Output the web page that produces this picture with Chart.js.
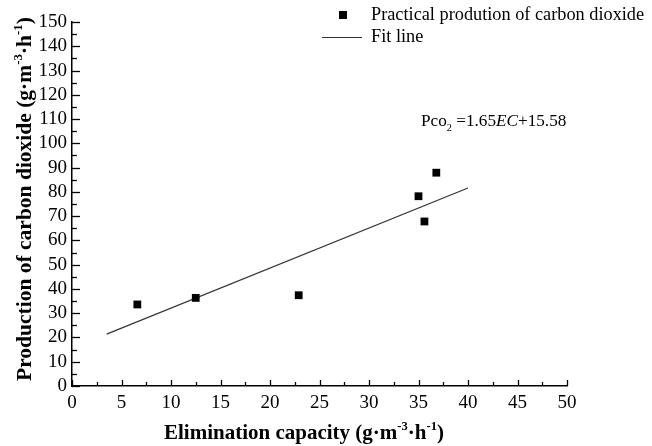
<!DOCTYPE html>
<html><head><meta charset="utf-8">
<script src="https://cdn.jsdelivr.net/npm/chart.js@4"></script>
<style>html,body{margin:0;padding:0;background:#fff}canvas{display:block}</style>
</head><body>
<canvas id="c" width="652" height="446"></canvas>
<script>
// Data
const ecValues   = [6.6, 12.5, 22.9, 35.0, 35.6, 36.8];
const pco2Values = [33.6, 36.3, 37.4, 78.2, 67.8, 87.9];
const fitEC   = [3.5, 40];
const fitPco2 = [21.4, 81.6];
const xTicks = [0, 5, 10, 15, 20, 25, 30, 35, 40, 45, 50];
const yTicks = [0, 10, 20, 30, 40, 50, 60, 70, 80, 90, 100, 110, 120, 130, 140, 150];
const seriesLabels = ['Practical prodution of carbon dioxide', 'Fit line'];
const equationParts = [['Pco', 'n'], ['2', 'sub'], [' =1.65', 'n'], ['EC', 'i'], ['+15.58', 'n']];
const xTitleParts = [['Elimination capacity (g·m', 'n'], ['-3', 'sup'], ['·h', 'n'], ['-1', 'sup'], [')', 'n']];
const yTitleParts = [['Production of carbon dioxide (g·m', 'n'], ['-3', 'sup'], ['·h', 'n'], ['-1', 'sup'], [')', 'n']];

const FONT = '"Liberation Serif", "Times New Roman", serif';

function drawParts(ctx, parts, x, y, size, bold, align) {
  const w = (t, s, it) => { ctx.font = (it ? 'italic ' : '') + (bold ? 'bold ' : '') + s + 'px ' + FONT; return ctx.measureText(t).width; };
  let total = 0;
  parts.forEach(([t, k]) => { total += w(t, k === 'n' || k === 'i' ? size : size * 0.6, k === 'i'); });
  let cx = align === 'center' ? x - total / 2 : x;
  ctx.textBaseline = 'alphabetic';
  ctx.textAlign = 'left';
  parts.forEach(([t, k]) => {
    const s = (k === 'n' || k === 'i') ? size : size * 0.6;
    const dy = k === 'sup' ? -size * 0.42 : (k === 'sub' ? size * 0.3 : 0);
    const ww = w(t, s, k === 'i');
    ctx.fillText(t, cx, y + dy);
    cx += ww;
  });
}

const customPlugin = {
  id: 'custom',
  afterDraw(chart) {
    const ctx = chart.ctx;
    const xs = chart.scales.x, ys = chart.scales.y;
    ctx.save();
    ctx.strokeStyle = '#000';
    ctx.fillStyle = '#000';
    // inner ticks
    ctx.lineWidth = 1.3;
    const x0 = xs.left, y0 = ys.bottom;
    for (let i = 0; i < xTicks.length; i++) {
      const px = Math.round(xs.getPixelForValue(xTicks[i])) + 0.5;
      ctx.beginPath(); ctx.moveTo(px, y0); ctx.lineTo(px, y0 - 6); ctx.stroke();
      if (i < xTicks.length - 1) {
        const pm = Math.round(xs.getPixelForValue((xTicks[i] + xTicks[i + 1]) / 2)) + 0.5;
        ctx.beginPath(); ctx.moveTo(pm, y0); ctx.lineTo(pm, y0 - 4); ctx.stroke();
      }
    }
    for (let i = 0; i < yTicks.length; i++) {
      const py = Math.round(ys.getPixelForValue(yTicks[i])) + 0.5;
      ctx.beginPath(); ctx.moveTo(x0, py); ctx.lineTo(x0 + 8, py); ctx.stroke();
      if (i < yTicks.length - 1) {
        const pm = Math.round(ys.getPixelForValue((yTicks[i] + yTicks[i + 1]) / 2)) + 0.5;
        ctx.beginPath(); ctx.moveTo(x0, pm); ctx.lineTo(x0 + 5, pm); ctx.stroke();
      }
    }
    // axis titles
    drawParts(ctx, xTitleParts, 304, 439, 21, true, 'center');
    ctx.save();
    ctx.translate(31, 199);
    ctx.rotate(-Math.PI / 2);
    drawParts(ctx, yTitleParts, 0, 0, 21.5, true, 'center');
    ctx.restore();
    // legend
    ctx.fillStyle = '#000';
    ctx.fillRect(339, 11, 8, 8);
    ctx.font = '18.3px ' + FONT;
    ctx.textBaseline = 'middle';
    ctx.textAlign = 'left';
    ctx.fillText(chart.data.datasets[0].label, 371, 15);
    ctx.strokeStyle = '#333';
    ctx.lineWidth = 1;
    ctx.beginPath(); ctx.moveTo(322, 37.5); ctx.lineTo(362, 37.5); ctx.stroke();
    ctx.fillText(chart.data.datasets[1].label, 371, 37);
    // equation
    drawParts(ctx, equationParts, 421, 126, 17.2, false, 'left');
    ctx.restore();
  }
};

new Chart(document.getElementById('c'), {
  type: 'scatter',
  data: {
    datasets: [
      {
        label: seriesLabels[0],
        data: ecValues.map((x, i) => ({ x, y: pco2Values[i] })),
        pointStyle: 'rect',
        pointRadius: 5.5,
        pointBackgroundColor: '#000',
        pointBorderColor: '#000',
        pointBorderWidth: 0,
        showLine: false
      },
      {
        label: seriesLabels[1],
        data: fitEC.map((x, i) => ({ x, y: fitPco2[i] })),
        showLine: true,
        borderColor: '#333',
        borderWidth: 1.2,
        pointRadius: 0
      }
    ]
  },
  options: {
    responsive: false,
    animation: false,
    devicePixelRatio: 1,
    layout: { padding: { left: 0, right: 85, top: 22, bottom: 0 } },
    plugins: { legend: { display: false }, tooltip: { enabled: false } },
    scales: {
      x: {
        type: 'linear', min: 0, max: 50,
        afterBuildTicks: s => { s.ticks = xTicks.map(v => ({ value: v })); },
        afterFit: s => { s.height = 60; },
        grid: { display: false, drawTicks: false },
        border: { display: true, color: '#000', width: 1.5 },
        ticks: { color: '#000', font: { family: FONT, size: 19 }, padding: 6, maxRotation: 0, autoSkip: false }
      },
      y: {
        type: 'linear', min: 0, max: 150,
        afterBuildTicks: s => { s.ticks = yTicks.map(v => ({ value: v })); },
        afterFit: s => { s.width = 72; },
        grid: { display: false, drawTicks: false },
        border: { display: true, color: '#000', width: 1.5 },
        ticks: { color: '#000', font: { family: FONT, size: 19 }, padding: 5, autoSkip: false }
      }
    }
  },
  plugins: [customPlugin]
});
</script>
</body></html>
